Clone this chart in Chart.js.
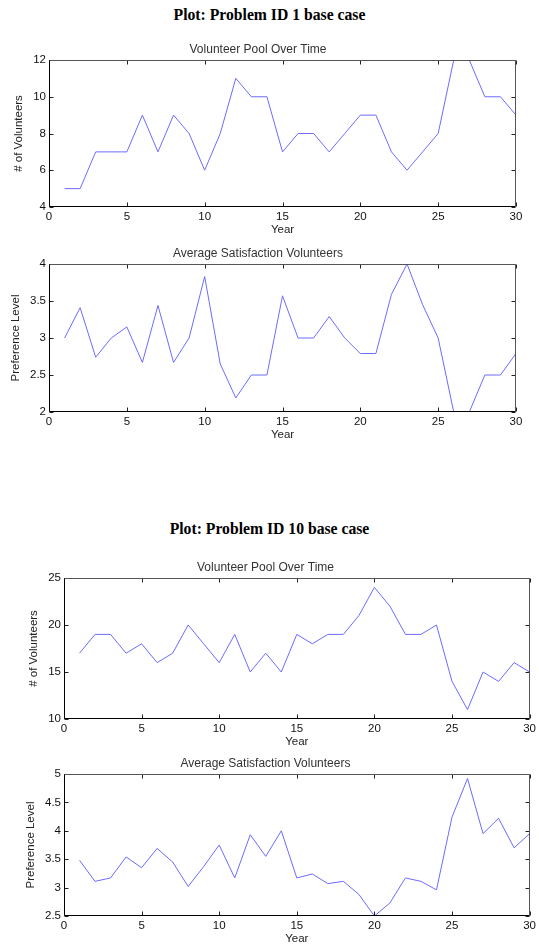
<!DOCTYPE html>
<html>
<head>
<meta charset="utf-8">
<script src="https://cdn.jsdelivr.net/npm/chart.js@4/dist/chart.umd.min.js"></script>
<style>
  html, body { margin: 0; padding: 0; background: #fff; }
  body { width: 539px; height: 951px; position: relative; overflow: hidden; }
  canvas { position: absolute; left: 0; }
  .maintitle { position: absolute; left: 0; width: 539px; text-align: center; line-height: 18px;
    font-family: 'Liberation Serif', 'Times New Roman', serif; font-weight: bold; font-size: 15.7px; color: #000; }
</style>
</head>
<body>
<div class="maintitle" id="t1" style="top:6px">Plot: Problem ID 1 base case</div>
<div class="maintitle" id="t2" style="top:520px">Plot: Problem ID 10 base case</div>
<canvas id="c1"></canvas>
<canvas id="c2"></canvas>
<canvas id="c3"></canvas>
<canvas id="c4"></canvas>
<script>
// ---- data ----
const years = [1,2,3,4,5,6,7,8,9,10,11,12,13,14,15,16,17,18,19,20,21,22,23,24,25,26,27,28,29,30];
const xTicks = [0,5,10,15,20,25,30];

const pool1 = [5,5,7,7,7,9,7,9,8,6,8,11,10,10,7,8,8,7,8,9,9,7,6,7,8,12,12,10,10,9];
const sat1  = [3.0,3.41,2.74,3.0,3.15,2.67,3.44,2.67,3.0,3.83,2.65,2.19,2.5,2.5,3.57,3.0,3.0,3.29,3.0,2.79,2.79,3.59,4.0,3.45,3.0,2.0,2.0,2.5,2.5,2.79];
const pool10 = [17,19,19,17,18,16,17,20,18,16,19,15,17,15,19,18,19,19,21,24,22,19,19,20,14,11,15,14,16,15];
const sat10  = [3.48,3.11,3.17,3.54,3.35,3.69,3.45,3.02,3.37,3.75,3.17,3.93,3.55,4.0,3.17,3.24,3.07,3.11,2.88,2.5,2.73,3.17,3.11,2.96,4.24,4.92,3.95,4.22,3.70,3.95];

const poolTicks1 = [4,6,8,10,12];
const satTicks1 = [2,2.5,3,3.5,4];
const poolTicks10 = [10,15,20,25];
const satTicks10 = [2.5,3,3.5,4,4.5,5];

const subTitlePool = 'Volunteer Pool Over Time';
const subTitleSat = 'Average Satisfaction Volunteers';
const yTitlePool = '# of Volunteers';
const yTitleSat = 'Preference Level';
const xTitle = 'Year';

// ---- layout per subplot ----
const panels = [
  { id:'c1', L:49, R:516, T:60,  B:207, data:pool1,  yt:poolTicks1,  sub:subTitlePool, ytitle:yTitlePool, ytx:19 },
  { id:'c2', L:49, R:516, T:264, B:412, data:sat1,   yt:satTicks1,   sub:subTitleSat,  ytitle:yTitleSat,  ytx:15.5 },
  { id:'c3', L:64, R:531, T:578, B:719, data:pool10, yt:poolTicks10, sub:subTitlePool, ytitle:yTitlePool, ytx:34 },
  { id:'c4', L:64, R:531, T:774, B:916, data:sat10,  yt:satTicks10,  sub:subTitleSat,  ytitle:yTitleSat,  ytx:30.5 }
];

const boxPlugin = {
  id: 'matlabBox',
  afterDatasetsDraw(chart) {
    const {ctx, chartArea: a, scales} = chart;
    ctx.save();
    ctx.lineWidth = 1;
    const l = Math.round(a.left) + 0.5, r = Math.round(a.right) - 0.5;
    const t = Math.round(a.top) + 0.5, b = Math.round(a.bottom) - 0.5;
    const tl = 4;
    ctx.strokeStyle = '#222';
    ctx.beginPath();
    scales.x.ticks.forEach(tk => {
      const px = Math.round(scales.x.getPixelForValue(tk.value)) + 0.5;
      ctx.moveTo(px, b); ctx.lineTo(px, b - tl);
      ctx.moveTo(px, t); ctx.lineTo(px, t + tl);
    });
    scales.y.ticks.forEach(tk => {
      const py = Math.round(scales.y.getPixelForValue(tk.value)) + 0.5;
      ctx.moveTo(l, py); ctx.lineTo(l + tl, py);
      ctx.moveTo(r, py); ctx.lineTo(r - tl, py);
    });
    ctx.stroke();
    ctx.strokeStyle = '#555';
    ctx.beginPath();
    ctx.moveTo(l, t); ctx.lineTo(r, t); ctx.lineTo(r, b);
    ctx.stroke();
    ctx.strokeStyle = '#000';
    ctx.beginPath();
    ctx.moveTo(l, t); ctx.lineTo(l, b); ctx.lineTo(r, b);
    ctx.stroke();
    ctx.restore();
  }
};

const FAM = "'Liberation Sans', Arial, sans-serif";
const tickFont = { family: FAM, size: 11.5 };
const axisFont = { family: FAM, size: 11.5 };
const subFont = { family: FAM, size: 12, weight: 'normal' };

panels.forEach(p => {
  const cv = document.getElementById(p.id);
  const top = p.T - 24;
  const h = p.B - p.T + 54;
  cv.width = 539; cv.height = h;
  cv.style.top = top + 'px';
  cv.style.width = '539px'; cv.style.height = h + 'px';
  const ymin = p.yt[0], ymax = p.yt[p.yt.length - 1];
  new Chart(cv, {
    type: 'line',
    data: {
      datasets: [{
        data: years.map((y, i) => ({ x: y, y: p.data[i] })),
        borderColor: 'rgb(108,108,255)',
        borderWidth: 1,
        pointRadius: 0,
        tension: 0,
        fill: false
      }]
    },
    options: {
      responsive: false,
      animation: false,
      events: [],
      layout: { padding: { left: 0, right: 539 - p.R, top: 0, bottom: 0 } },
      plugins: {
        legend: { display: false },
        tooltip: { enabled: false },
        title: {
          display: true, text: p.sub, color: '#333',
          font: subFont,
          padding: { top: 6.3, bottom: 3.3 }
        }
      },
      scales: {
        x: {
          type: 'linear', min: 0, max: 30,
          afterBuildTicks: s => { s.ticks = xTicks.map(v => ({ value: v })); },
          afterFit: s => { s.height = 30; },
          grid: { display: false, drawTicks: false },
          border: { display: false },
          ticks: { font: tickFont, color: '#111', padding: 3, maxRotation: 0, autoSkip: false },
          title: { display: true, text: xTitle, font: axisFont, color: '#222', padding: { top: 0, bottom: 0 } }
        },
        y: {
          type: 'linear', min: ymin, max: ymax,
          afterBuildTicks: s => { s.ticks = p.yt.map(v => ({ value: v })); },
          afterFit: s => { s.width = p.L; },
          grid: { display: false, drawTicks: false },
          border: { display: false },
          ticks: { font: tickFont, color: '#111', padding: 3, autoSkip: false,
                   callback: v => String(v) },
          title: { display: true, text: p.ytitle, font: axisFont, color: '#222',
                   padding: { top: p.ytx - 6.9, bottom: 0 } }
        }
      }
    },
    plugins: [boxPlugin]
  });
});
</script>
</body>
</html>
